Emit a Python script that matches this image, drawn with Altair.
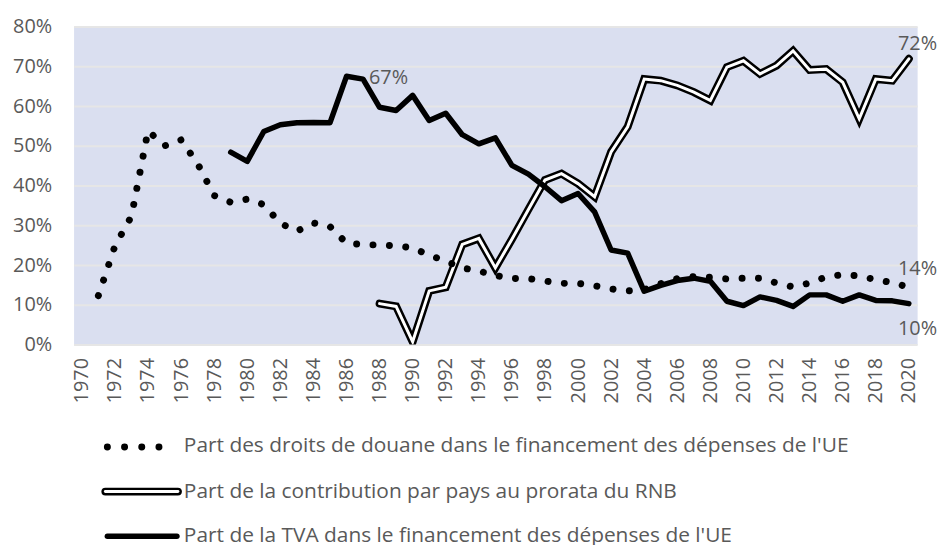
import altair as alt
import pandas as pd

# ---------------- data (percent) ----------------
years = list(range(1970, 2021))

douane = [None, 12.3, 24.8, 32.3, 53.8, 50.0, 51.5, 45.5, 37.5, 35.8,
          36.6, 35.2, 30.5, 28.5, 30.6, 29.7, 25.5, 25.2, 25.0, 24.9,
          24.3, 22.5, 21.0, 19.3, 18.5, 17.4, 16.6, 16.6, 16.0, 15.4,
          15.4, 14.8, 14.0, 13.5, 13.8, 15.3, 16.6, 17.1, 16.9, 16.5,
          16.7, 16.7, 15.5, 14.5, 15.5, 17.0, 17.6, 17.3, 16.3, 15.6,
          14.4]

tva = [None] * 9 + [48.4, 46.1, 53.6, 55.3, 55.8, 55.9, 55.8, 67.5, 66.8, 59.7,
                    58.9, 62.7, 56.4, 58.2, 52.8, 50.5, 52.0, 45.1, 42.9, 39.7,
                    36.2, 38.0, 33.4, 23.8, 23.0, 13.4, 14.9, 16.1, 16.7, 15.9,
                    10.9, 9.8, 12.0, 11.1, 9.6, 12.5, 12.5, 10.9, 12.5, 11.1,
                    11.0, 10.3]

rnb = [None] * 18 + [10.3, 9.6, 0.7, 13.5, 14.4, 25.2, 26.7, 19.3, 26.5, 34.0,
                     41.4, 43.0, 40.5, 37.2, 48.5, 54.8, 66.8, 66.4, 65.2, 63.5,
                     61.4, 69.8, 71.4, 68.1, 70.2, 73.9, 69.1, 69.3, 66.0, 56.8,
                     66.8, 66.4, 71.9]

y_ticks = [0, 0.1, 0.2, 0.3, 0.4, 0.5, 0.6, 0.7, 0.8]
x_ticks = list(range(1970, 2021, 2))

legend_labels = [
    "Part des droits de douane dans le financement des dépenses de l'UE",
    "Part de la contribution par pays au prorata du RNB",
    "Part de la TVA dans le financement des dépenses de l'UE",
]


def pct(v):
    return None if v is None else v / 100.0


df = pd.DataFrame({
    "annee": years,
    "douane": [pct(v) for v in douane],
    "tva": [pct(v) for v in tva],
    "rnb": [pct(v) for v in rnb],
})
one = pd.DataFrame({"k": [0]})

FONT = "Open Sans"
GREY = "#595959"
AXFS = 20

base = alt.Chart(df)

x_enc = alt.X(
    "annee:Q",
    title=None,
    scale=alt.Scale(domain=[1969.5, 2020.5], nice=False, zero=False),
    axis=alt.Axis(values=x_ticks, format="d", labelAngle=-90, labelAlign="right",
                  labelBaseline="middle", labelPadding=13, ticks=False, domain=False,
                  grid=False, labelFont=FONT, labelFontSize=AXFS, labelColor=GREY,
                  labelOverlap=False),
)

y_scale = alt.Scale(domain=[0, 0.8], nice=False)
y_axis = alt.Axis(values=y_ticks, format=".0%", ticks=False, domain=False, grid=True,
                  gridColor="#E6E6E6", gridWidth=2, labelPadding=22,
                  labelFont=FONT, labelFontSize=AXFS, labelColor=GREY)


def Y(field):
    return alt.Y(f"{field}:Q", title=None, scale=y_scale, axis=y_axis)


rnb_outer = base.mark_line(color="black", strokeWidth=8, strokeCap="round",
                           strokeJoin="miter", clip=True).encode(x=x_enc, y=Y("rnb"))
rnb_inner = base.mark_line(color="white", strokeWidth=3, strokeCap="round",
                           strokeJoin="miter", clip=True).encode(x=x_enc, y=Y("rnb"))
tva_line = base.mark_line(color="black", strokeWidth=5.5, strokeCap="round",
                          strokeJoin="round").encode(x=x_enc, y=Y("tva"))
douane_line = base.mark_line(color="black", strokeWidth=7, strokeCap="round",
                             strokeDash=[0.01, 16.5]).encode(x=x_enc, y=Y("douane"))

txt = dict(font=FONT, fontSize=20, color=GREY, baseline="middle")

lab67 = base.transform_filter("datum.annee == 1987").mark_text(
    align="left", dx=6, dy=-1, **txt).encode(
    x=x_enc, y=Y("tva"), text=alt.Text("tva:Q", format=".0%"))
lab72 = base.transform_filter("datum.annee == 2020").mark_text(
    align="left", dx=-11, dy=-15, **txt).encode(
    x=x_enc, y=Y("rnb"), text=alt.Text("rnb:Q", format=".0%"))
lab14 = base.transform_filter("datum.annee == 2020").mark_text(
    align="left", dx=-11, dy=-18, **txt).encode(
    x=x_enc, y=Y("douane"), text=alt.Text("douane:Q", format=".0%"))
lab10 = base.transform_filter("datum.annee == 2020").mark_text(
    align="left", dx=-11, dy=26, **txt).encode(
    x=x_enc, y=Y("tva"), text=alt.Text("tva:Q", format=".0%"))

# ---------------- manual legend (below plot) ----------------
leg = alt.Chart(one)
leg_dots = leg.mark_rule(color="black", strokeWidth=7, strokeCap="round",
                         strokeDash=[0.01, 17.3]).encode(
    x=alt.value(34), x2=alt.value(88), y=alt.value(423))
leg_dbl_o = leg.mark_rule(color="black", strokeWidth=8, strokeCap="round").encode(
    x=alt.value(32), x2=alt.value(105), y=alt.value(468))
leg_dbl_i = leg.mark_rule(color="white", strokeWidth=3, strokeCap="round").encode(
    x=alt.value(32), x2=alt.value(105), y=alt.value(468))
leg_solid = leg.mark_rule(color="black", strokeWidth=5.5, strokeCap="round").encode(
    x=alt.value(34), x2=alt.value(104), y=alt.value(513))

leg_txt = dict(font=FONT, fontSize=21, color=GREY, baseline="middle", align="left")
leg_t1 = leg.mark_text(**leg_txt).encode(
    x=alt.value(111), y=alt.value(422.5), text=alt.value(legend_labels[0]))
leg_t2 = leg.mark_text(**leg_txt).encode(
    x=alt.value(111), y=alt.value(468), text=alt.value(legend_labels[1]))
leg_t3 = leg.mark_text(**leg_txt).encode(
    x=alt.value(111), y=alt.value(513), text=alt.value(legend_labels[2]))

chart = alt.layer(
    rnb_outer, rnb_inner, tva_line, douane_line,
    lab67, lab72, lab14, lab10,
    leg_dots, leg_dbl_o, leg_dbl_i, leg_solid, leg_t1, leg_t2, leg_t3,
).properties(
    width=849, height=320,
    padding={"left": 66, "top": 17, "right": 20, "bottom": 200},
    autosize=alt.AutoSizeParams(type="none"),
    background="white",
).configure_view(fill="#DADFF0", stroke="transparent")

chart.save("out.html", embed_options={"renderer": "svg", "actions": False})
